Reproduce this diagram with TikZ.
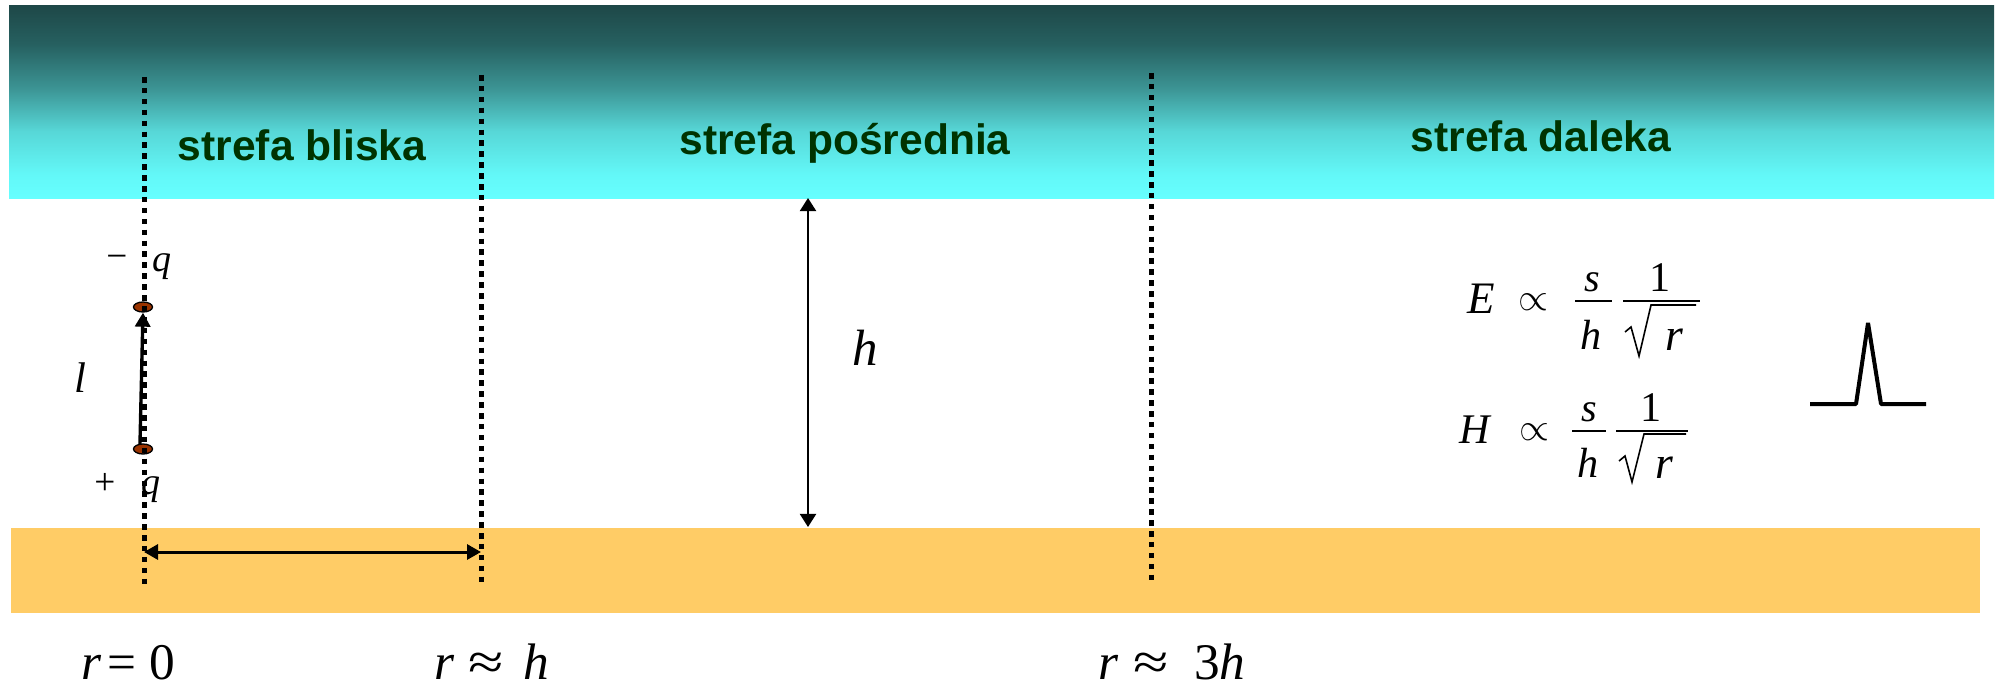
\documentclass[tikz,border=0pt]{standalone}
\usepackage{fontspec}
\setmainfont{Liberation Serif}
\newfontfamily\arialb{Liberation Sans}
\usetikzlibrary{arrows.meta,shapes.geometric}
\definecolor{zonegreen}{RGB}{0,51,0}
\definecolor{groundc}{RGB}{255,204,102}
\definecolor{chargec}{RGB}{153,51,0}
\definecolor{skyA}{RGB}{30,72,72}
\definecolor{skyB}{RGB}{38,96,96}
\definecolor{skyC}{RGB}{60,148,148}
\definecolor{skyD}{RGB}{87,215,215}
\definecolor{skyE}{RGB}{99,248,248}
\definecolor{skyF}{RGB}{102,255,255}
\pgfdeclareverticalshading{skyshade}{100bp}{color(0bp)=(skyF); color(25bp)=(skyF); color(31bp)=(skyE); color(42.4bp)=(skyD); color(53.6bp)=(skyC); color(65.1bp)=(skyB); color(75bp)=(skyA); color(100bp)=(skyA)}
\newcommand\fsz[1]{\fontsize{#1}{#1}\selectfont}
\newcommand\wideapprox{\scalebox{1.25}[1]{≈}}
\tikzset{
  zone/.style={font=\arialb\bfseries\fsz{12.1pt}, text=zonegreen, inner sep=0, outer sep=0, anchor=base},
  lbl/.style={inner sep=0, outer sep=0, anchor=base},
  zoneline/.style={line width=0.05cm, dash pattern=on 0.055cm off 0.054cm},
  dimarrow/.style={line width=0.02cm, {Triangle[width=0.16cm,length=0.13cm]}-{Triangle[width=0.16cm,length=0.13cm]}},
  rarrow/.style={line width=0.03cm, {Triangle[width=0.15cm,length=0.14cm]}-{Triangle[width=0.15cm,length=0.14cm]}},
  dipole/.style={line width=0.034cm, -{Triangle[width=0.15cm,length=0.14cm]}},
  charge/.style={ellipse, draw, fill=chargec, line width=0.013cm, minimum width=0.19cm, minimum height=0.10cm, inner sep=0},
  fbar/.style={line width=0.016cm},
  radical/.style={line width=0.016cm, line join=miter},
  pulse/.style={line width=0.04cm, line join=bevel},
  bottomlbl/.style={inner sep=0, outer sep=0, anchor=base west, font=\fsz{14.6pt}}
}
\begin{document}
\begin{tikzpicture}[x=0.01cm,y=-0.01cm]
\useasboundingbox (0,0) rectangle (2004,688);
\fill[white] (0,0) rectangle (2004,688);
% bands
\shade[shading=skyshade] (9,6) rectangle (1994,198);
\fill[groundc] (11,528) rectangle (1980,613);
% zone labels
\node[zone] (zn) at (302,161) {strefa bliska};
\node[zone] (zm) at (845,155) {strefa pośrednia};
\node[zone] (zf) at (1541,152) {strefa daleka};
% coordinates
\coordinate (d1t) at (144,77);  \coordinate (d1b) at (144,584);
\coordinate (d2t) at (481,75);  \coordinate (d2b) at (481,582);
\coordinate (d3t) at (1151,73); \coordinate (d3b) at (1151,580);
\coordinate (hTop) at (808,198); \coordinate (hBot) at (808,527);
\coordinate (rA) at (144,552); \coordinate (rB) at (481,552);
% dipole
\node[charge] (qm) at (143,307) {};
\node[charge] (qp) at (143,449) {};
\coordinate (lstart) at (140,444);
\draw[dipole] (lstart) -- (qm.south);
% dimension arrows
\draw[dimarrow] (hTop) -- (hBot);
\draw[rarrow] (rA) -- (rB);
% zone boundaries
\draw[zoneline] (d1t) -- (d1b);
\draw[zoneline] (d2t) -- (d2b);
\draw[zoneline] (d3t) -- (d3b);
% dipole labels
\node[lbl, font=\fsz{10.6pt}] (minus) at (117,268) {−};
\node[lbl, font=\itshape\fsz{10.8pt}] (qtop) at (162,271) {q};
\node[lbl, font=\fsz{10.6pt}] (plus) at (105,494) {+};
\node[lbl, font=\itshape\fsz{10.8pt}] (qbot) at (151,494) {q};
\node[lbl, font=\itshape\fsz{12.2pt}] (ll) at (80,392) {l};
% h label
\node[lbl, font=\itshape\fsz{14.5pt}] (hl) at (865,365) {h};
% E formula
\node[lbl, anchor=base west, font=\itshape\fsz{12.8pt}] (E) at (1467,313) {E};
\node[inner sep=0, font=\fsz{10.8pt}] (propE) at (1533,302) {$\propto$};
\node[lbl, font=\itshape\fsz{11.4pt}] (sE) at (1592,291) {s};
\draw[fbar] (1575,301) -- (1612,301);
\node[lbl, font=\itshape\fsz{12pt}] (hE) at (1591,349) {h};
\draw[fbar] (1623,301) -- (1700,301);
\node[lbl, font=\fsz{12pt}] (oneE) at (1660,291) {1};
\draw[radical] (1625,332) -- (1631,327) -- (1639,356) -- (1651,305) -- (1696,305);
\node[lbl, font=\itshape\fsz{13pt}] (rE) at (1674,350) {r};
% H formula
\node[lbl, anchor=base west, font=\itshape\fsz{12pt}] (H) at (1459,443) {H};
\node[inner sep=0, font=\fsz{10.8pt}] (propH) at (1534,432) {$\propto$};
\node[lbl, font=\itshape\fsz{11.4pt}] (sH) at (1589,421) {s};
\draw[fbar] (1572,431) -- (1606,431);
\node[lbl, font=\itshape\fsz{12pt}] (hH) at (1588,477) {h};
\draw[fbar] (1616,431) -- (1688,431);
\node[lbl, font=\fsz{12pt}] (oneH) at (1651,421) {1};
\draw[radical] (1619,461) -- (1625,456) -- (1632,482) -- (1644,434) -- (1686,434);
\node[lbl, font=\itshape\fsz{13pt}] (rH) at (1664,478) {r};
% pulse
\draw[pulse] (1810,404) -- (1856,404) -- (1868,323) -- (1881,404) -- (1926,404);
% bottom labels
\node[bottomlbl] (r0) at (81,679) {\textit{r}\hspace{0.06cm}=\hspace{0.13cm}0};
\node[bottomlbl] (rh) at (434,679) {\textit{r}\hspace{0.14cm}\wideapprox\hspace{0.2cm}\textit{h}};
\node[bottomlbl] (r3h) at (1098,679) {\textit{r}\hspace{0.15cm}\wideapprox\hspace{0.26cm}3\hspace{-0.01cm}\textit{h}};
\end{tikzpicture}
\end{document}
